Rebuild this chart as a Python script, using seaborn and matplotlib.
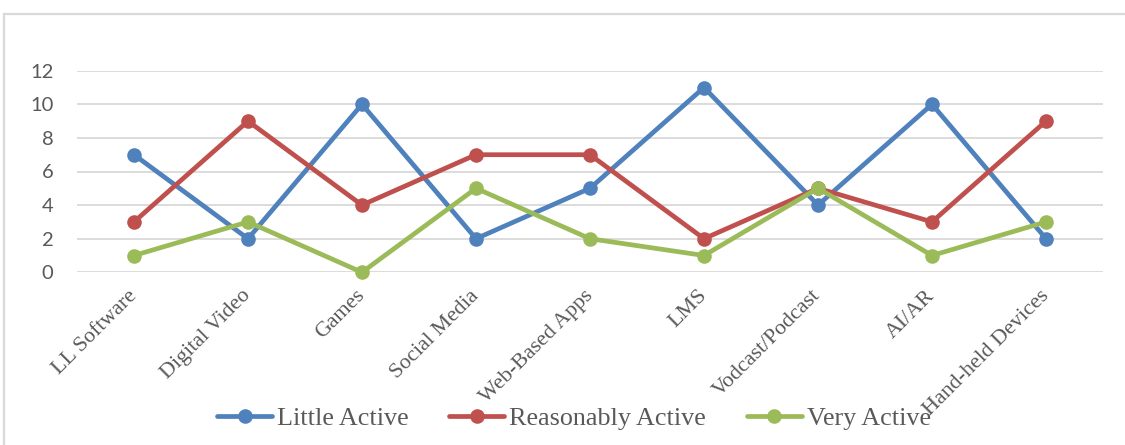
import matplotlib
matplotlib.use("Agg")
import matplotlib.pyplot as plt
import seaborn as sns
import pandas as pd
from matplotlib.patches import Rectangle

categories = ["LL Software", "Digital Video", "Games", "Social Media", "Web-Based Apps",
              "LMS", "Vodcast/Podcast", "AI/AR", "Hand-held Devices"]
little_active = [7, 2, 10, 2, 5, 11, 4, 10, 2]
reasonably_active = [3, 9, 4, 7, 7, 2, 5, 3, 9]
very_active = [1, 3, 0, 5, 2, 1, 5, 1, 3]
series_names = ["Little Active", "Reasonably Active", "Very Active"]
y_ticks = [0, 2, 4, 6, 8, 10, 12]

colors = ["#4F81BD", "#C0504D", "#9BBB59"]

rows = []
for name, vals in zip(series_names, [little_active, reasonably_active, very_active]):
    for i, (c, v) in enumerate(zip(categories, vals)):
        rows.append({"idx": i, "category": c, "value": v, "series": name})
df = pd.DataFrame(rows)

sns.set_theme(style="white")
plt.rcParams["font.family"] = ["Liberation Serif", "DejaVu Sans"]

fig = plt.figure(figsize=(11.25, 4.45), dpi=100)
ax = fig.add_axes([77 / 1125, 1 - 272.3 / 445, (1103 - 77) / 1125, (272.3 - 70.7) / 445])

sns.lineplot(data=df, x="idx", y="value", hue="series", hue_order=series_names,
             palette=colors, marker="o", markersize=10.5, markeredgewidth=0,
             linewidth=3.4, sort=False, ax=ax, legend=True)
for ln in ax.lines:
    ln.set_clip_on(False)
    ln.set_solid_capstyle("round")

ax.set_xlim(-0.5, len(categories) - 0.5)
ax.set_ylim(0, 12)
ax.set_yticks(y_ticks)
ax.set_yticklabels([str(t) for t in y_ticks], fontfamily="Lato", fontsize=14.5, color="#595959")
ax.set_xticks(range(len(categories)))
ax.set_xticklabels(categories, rotation=45, ha="right", va="center",
                   rotation_mode="anchor", fontsize=15.8, color="#595959")
ax.tick_params(axis="x", length=0, pad=15)
ax.tick_params(axis="y", length=0, pad=17)
ax.yaxis.grid(True, color="#D9D9D9", linewidth=1.3)
ax.xaxis.grid(False)
ax.set_axisbelow(True)
for s in ax.spines.values():
    s.set_visible(False)
ax.set_xlabel("")
ax.set_ylabel("")

handles, labels = ax.get_legend_handles_labels()
ax.get_legend().remove()
leg = fig.legend(handles, labels, loc="center", bbox_to_anchor=(574 / 1125, 1 - 418 / 445),
                 ncol=3, frameon=False, fontsize=18.8, handlelength=2.1, handletextpad=0.2,
                 columnspacing=1.55, numpoints=1, borderpad=0)
for t in leg.get_texts():
    t.set_color("#595959")

border = Rectangle((4 / 1125, -0.05), 1.2, 1 - 13.5 / 445 + 0.05, transform=fig.transFigure,
                   fill=False, edgecolor="#D9D9D9", linewidth=1.6, zorder=-1)
fig.patches.append(border)

fig.savefig("out.png", dpi=100)
